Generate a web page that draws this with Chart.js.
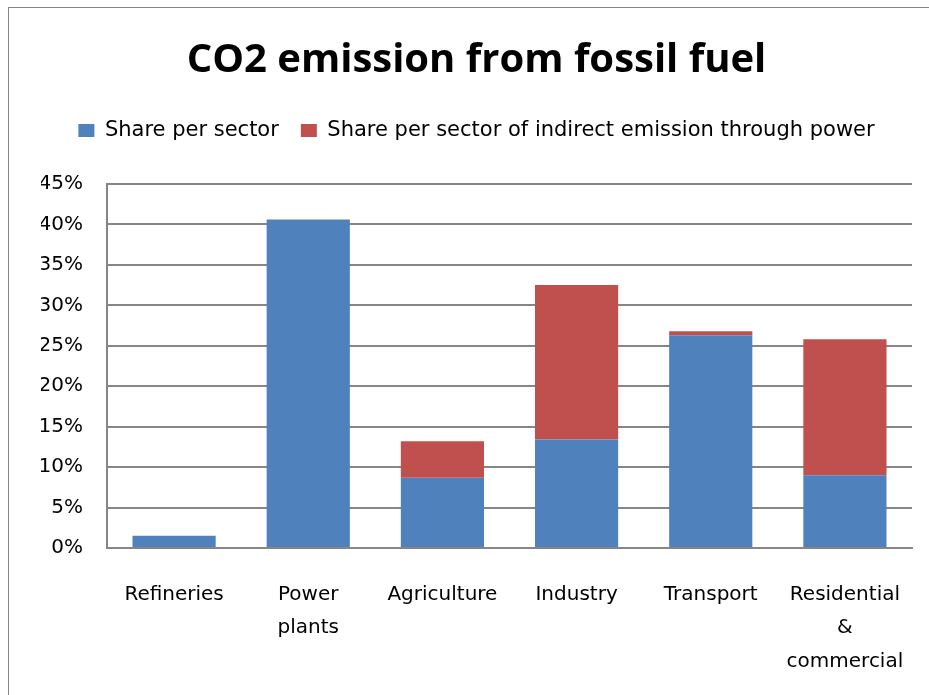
<!DOCTYPE html>
<html>
<head>
<meta charset="utf-8">
<script src="https://cdn.jsdelivr.net/npm/chart.js@4"></script>
<style>
  html, body { margin: 0; padding: 0; background: #fff; overflow: hidden; }
  #frame { position: absolute; left: 8px; top: 7px; width: 1000px; height: 1000px; border: 1px solid #868686; }
  #wrap { position: absolute; left: 0; top: 0; width: 929px; height: 695px; }
</style>
</head>
<body>
<div id="frame"></div>
<div id="wrap"><canvas id="chart" width="929" height="695"></canvas></div>
<script>
const sectors = ['Refineries', ['Power', 'plants'], 'Agriculture', 'Industry', 'Transport', ['Residential', '&', 'commercial']];
const directShare = [1.5, 40.6, 8.7, 13.4, 26.3, 9.0];
const indirectShare = [0, 0, 4.5, 19.1, 0.5, 16.8];
const yTicks = [0, 5, 10, 15, 20, 25, 30, 35, 40, 45];

const titleFont = '"Open Sans", Lato, sans-serif';
const textFont = '"DejaVu Sans", "Open Sans", sans-serif';
const gridGray = '#868686';

new Chart(document.getElementById('chart'), {
    type: 'bar',
    data: {
        labels: sectors,
        datasets: [
            {
                label: 'Share per sector',
                data: directShare,
                backgroundColor: '#4F81BD',
                borderWidth: 0
            },
            {
                label: 'Share per sector of indirect emission through power',
                data: indirectShare,
                backgroundColor: '#C0504D',
                borderWidth: 0
            }
        ]
    },
    options: {
        responsive: false,
        animation: false,
        // title and legend are centred on the framed area, not the canvas
        layout: { padding: { left: 41, right: 17, top: 0, bottom: 0 } },
        datasets: {
            bar: { categoryPercentage: 1, barPercentage: 0.62 }
        },
        scales: {
            x: {
                stacked: true,
                grid: { display: false, drawTicks: false },
                border: { display: true, color: gridGray, width: 2 },
                ticks: {
                    color: '#000',
                    padding: 30,
                    maxRotation: 0,
                    autoSkip: false,
                    font: { family: textFont, size: 20, lineHeight: 1.67 }
                },
                afterFit: (scale) => {
                    scale.height = 147;
                    scale.paddingLeft = 0;
                    scale.paddingRight = 0;
                }
            },
            y: {
                stacked: true,
                min: 0,
                max: 45,
                afterBuildTicks: (scale) => { scale.ticks = yTicks.map(v => ({ value: v })); },
                grid: { color: gridGray, lineWidth: 2, drawTicks: false },
                border: { display: true, color: gridGray, width: 2 },
                ticks: {
                    color: '#000',
                    padding: 24,
                    font: { family: textFont, size: 20 },
                    callback: (v) => v + '%'
                },
                afterFit: (scale) => { scale.width = 66; }
            }
        },
        plugins: {
            title: {
                display: true,
                text: 'CO2 emission from fossil fuel',
                color: '#000',
                font: { family: titleFont, size: 40, weight: 'bold', lineHeight: 1.2 },
                padding: { top: 37, bottom: 13 }
            },
            legend: {
                display: true,
                labels: {
                    color: '#000',
                    boxWidth: 16,
                    boxHeight: 13,
                    padding: 22,
                    font: { family: textFont, size: 21 }
                }
            },
            // empty spacer between the legend and the plot area
            subtitle: {
                display: true,
                text: '',
                weight: 500,
                font: { size: 10, lineHeight: 1 },
                padding: { top: 0, bottom: 23 }
            },
            tooltip: { enabled: false }
        }
    }
});
</script>
</body>
</html>
